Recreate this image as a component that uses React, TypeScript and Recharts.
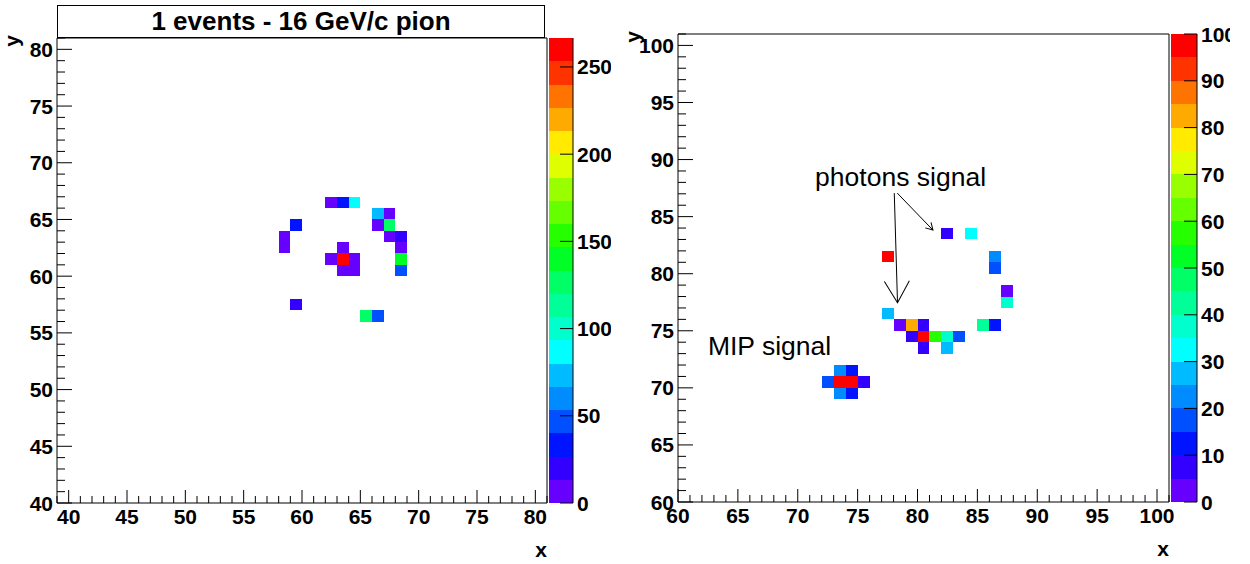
import React from 'react';
import { ComposedChart, Scatter, XAxis, YAxis, ReferenceArea, ReferenceLine, ReferenceDot, Label } from 'recharts';

const FONT = '"Liberation Sans", Arial, Helvetica, sans-serif';

// ROOT rainbow palette, 20 contours, bottom to top
const palette = [
  '#6600ff', '#3300ff', '#0014ff', '#0050ff', '#008cff', '#00bbff', '#00ffff', '#00ffcc', '#00ff99', '#00ff66',
  '#00ff26', '#26ff00', '#66ff00', '#99ff00', '#dfff00', '#ffea00', '#ffaa00', '#ff7300', '#ff3300', '#ff0000',
];

// left: 1 event, 16 GeV/c pion (bin low edges + content)
const pionX = [62, 63, 64, 66, 67, 59, 66, 67, 58, 67, 68, 58, 63, 68, 62, 63, 64, 68, 63, 64, 68, 59, 65, 66];
const pionY = [66, 66, 66, 65, 65, 64, 64, 64, 63, 63, 63, 62, 62, 62, 61, 61, 61, 61, 60, 60, 60, 57, 56, 56];
const pionZ = [6, 33, 87, 73, 6, 33, 6, 127, 6, 6, 20, 6, 6, 6, 6, 266.6, 6, 140, 6, 6, 47, 20, 127, 47];

// right: ring + MIP
const ringX = [82, 84, 77, 86, 86, 87, 87, 77, 78, 79, 80, 85, 86, 79, 80, 81, 82, 83, 80, 82, 73, 74, 72, 73, 74, 75, 73, 74];
const ringY = [83, 83, 81, 81, 80, 78, 77, 76, 75, 75, 75, 75, 75, 74, 74, 74, 74, 74, 73, 73, 71, 71, 70, 70, 70, 70, 69, 69];
const ringZ = [8, 33, 100, 23, 18, 3, 38, 28, 3, 83, 8, 43, 13, 8, 97, 57, 38, 18, 8, 28, 23, 13, 18, 99, 97, 8, 23, 13];

const leftMajor = [40, 45, 50, 55, 60, 65, 70, 75, 80];
const leftXTicks = Array.from({ length: 43 }, (_, i) => 39 + i);
const leftYTicks = Array.from({ length: 42 }, (_, i) => 40 + i);
const rightMajor = [60, 65, 70, 75, 80, 85, 90, 95, 100];
const rightTicks = Array.from({ length: 42 }, (_, i) => 60 + i);
const leftBarTicks = [0, 50, 100, 150, 200, 250];
const rightBarTicks = [0, 10, 20, 30, 40, 50, 60, 70, 80, 90, 100];

// annotations on the right panel
const noteText = ['photons signal', 'MIP signal'];
const noteX = [71.45, 62.5];
const noteY = [87.68, 72.87];
const arrowFrom = [{ x: 78.06, y: 87.06 }, { x: 78.31, y: 87.06 }];
const arrowTo = [{ x: 78.33, y: 77.45 }, { x: 81.29, y: 83.82 }];

const labelFont = { fill: '#000', fontSize: 21, fontWeight: 'bold', fontFamily: FONT } as const;

const colorOf = (z: number, zMax: number) => palette[Math.min(palette.length - 1, Math.floor((z / zMax) * palette.length))];

// ROOT-like ticks: drawn inward from the axis, long on majors, short on minors
const bottomTick = (majors: number[]) => (p: any) => {
  const major = majors.includes(p.payload.value);
  return (
    <g>
      <line x1={p.x} y1={p.y} x2={p.x} y2={p.y - (major ? 13 : 7)} stroke="#000" />
      {major && <text x={p.x} y={p.y + 21} textAnchor="middle" {...labelFont}>{p.payload.value}</text>}
    </g>
  );
};

const leftTick = (majors: number[]) => (p: any) => {
  const major = majors.includes(p.payload.value);
  return (
    <g>
      <line x1={p.x} y1={p.y} x2={p.x + (major ? 15 : 8)} y2={p.y} stroke="#000" />
      {major && <text x={p.x - 4} y={p.y + 7.5} textAnchor="end" {...labelFont}>{p.payload.value}</text>}
    </g>
  );
};

const rightTick = (p: any) => (
  <g>
    <line x1={p.x} y1={p.y} x2={p.x - 13} y2={p.y} stroke="#000" />
    <text x={p.x + 4} y={p.y + 7.5} textAnchor="start" {...labelFont}>{p.payload.value}</text>
  </g>
);

const XTitle = (p: any) => (
  <text x={p.viewBox.x + p.viewBox.width} y={p.viewBox.y + 54} textAnchor="end" {...labelFont}>x</text>
);

const YTitle = (p: any) => {
  const x = p.viewBox.x + p.viewBox.width - 38;
  const y = p.viewBox.y - 3;
  return (
    <text x={x} y={y} transform={`rotate(-90 ${x} ${y})`} textAnchor="end" {...labelFont}>y</text>
  );
};

function HistPanel(props: any) {
  const { xs, ys, zs, xDomain, yDomain, xTicks, yTicks, majors, width, height, top, axisH, axisW, right, children } = props;
  const zMax = Math.max(...zs);
  const cells = xs.map((x: number, i: number) => ({ x: x + 0.5, y: ys[i] + 0.5, x0: x, y0: ys[i], z: zs[i] }));
  return (
    <ComposedChart width={width} height={height} margin={{ top, right, bottom: 0, left: 0 }} data={cells}>
      <defs>
        <marker id="headBig" markerWidth={30} markerHeight={30} refX={25} refY={15} orient="auto" markerUnits="userSpaceOnUse">
          <path d="M3.35,2.5 L25,15 L3.35,27.5" fill="none" stroke="#000" strokeWidth={1} />
        </marker>
        <marker id="headSmall" markerWidth={12} markerHeight={12} refX={9} refY={5} orient="auto" markerUnits="userSpaceOnUse">
          <path d="M2.07,1 L9,5 L2.07,9" fill="none" stroke="#000" strokeWidth={1} />
        </marker>
      </defs>
      <XAxis type="number" dataKey="x" domain={xDomain} allowDataOverflow ticks={xTicks} interval={0}
        height={axisH} tickSize={0} tickMargin={0} tickLine={false} axisLine={false} tick={bottomTick(majors)}>
        <Label content={XTitle} />
      </XAxis>
      <YAxis type="number" dataKey="y" domain={yDomain} allowDataOverflow ticks={yTicks} interval={0}
        width={axisW} tickSize={0} tickMargin={0} tickLine={false} axisLine={false} tick={leftTick(majors)}>
        <Label content={YTitle} />
      </YAxis>
      {cells.map((c: any, i: number) => (
        <ReferenceArea key={i} x1={c.x0} x2={c.x0 + 1} y1={c.y0} y2={c.y0 + 1}
          fill={colorOf(c.z, zMax)} fillOpacity={1} stroke="none" shapeRendering="crispEdges" />
      ))}
      <Scatter dataKey="y" isAnimationActive={false} shape={() => <g />} />
      <ReferenceArea x1={xDomain[0]} x2={xDomain[1]} y1={yDomain[0]} y2={yDomain[1]}
        fill="none" fillOpacity={0} stroke="#000" strokeWidth={1} ifOverflow="visible" />
      {children}
    </ComposedChart>
  );
}

function ColorBar(props: any) {
  const { zMax, ticks, width, height, top, bottom, left, axisW } = props;
  const step = zMax / palette.length;
  return (
    <ComposedChart width={width} height={height} margin={{ top, right: 0, bottom, left }} data={[{ x: 0.5, y: 0 }]}>
      <XAxis type="number" dataKey="x" domain={[0, 1]} allowDataOverflow hide height={0} />
      <YAxis type="number" dataKey="y" orientation="right" domain={[0, zMax]} allowDataOverflow ticks={ticks} interval={0}
        width={axisW} tickSize={0} tickMargin={0} tickLine={false} stroke="#000" tick={rightTick} />
      {palette.map((c, i) => (
        <ReferenceArea key={i} x1={0} x2={1} y1={i * step} y2={(i + 1) * step} fill={c} fillOpacity={1} stroke="none" shapeRendering="crispEdges" />
      ))}
    </ComposedChart>
  );
}

const noteLabel = (text: string) => (p: any) => (
  <text x={p.viewBox.x} y={p.viewBox.y} fontFamily={FONT} fontSize={26.5} fill="#000">{text}</text>
);

export default function App() {
  return (
    <div style={{ position: 'absolute', left: 0, top: 0, width: 1250, height: 564, background: '#fff', overflow: 'hidden' }}>
      <div style={{ position: 'absolute', left: 0, top: 0 }}>
        <HistPanel xs={pionX} ys={pionY} zs={pionZ} xDomain={[39, 81]} yDomain={[40, 81]}
          xTicks={leftXTicks} yTicks={leftYTicks} majors={leftMajor}
          width={560} height={564} top={38} axisH={61} axisW={57} right={13} />
      </div>
      <div style={{ position: 'absolute', left: 540, top: 0 }}>
        <ColorBar zMax={Math.max(...pionZ)} ticks={leftBarTicks} width={71} height={564}
          top={38} bottom={61} left={9} axisW={38} />
      </div>
      <div style={{
        position: 'absolute', left: 57, top: 5, width: 488, height: 33, boxSizing: 'border-box', border: '1px solid #000',
        background: '#fff', textAlign: 'center', fontFamily: FONT, fontWeight: 'bold', fontSize: 26, lineHeight: '31px', color: '#000',
      }}>
        1 events - 16 GeV/c pion
      </div>
      <div style={{ position: 'absolute', left: 620, top: 0 }}>
        <HistPanel xs={ringX} ys={ringY} zs={ringZ} xDomain={[60, 101]} yDomain={[60, 101]}
          xTicks={rightTicks} yTicks={rightTicks} majors={rightMajor}
          width={560} height={564} top={34} axisH={62} axisW={58} right={11}>
          {noteText.map((t, i) => (
            <ReferenceDot key={t} x={noteX[i]} y={noteY[i]} r={0} fill="none" stroke="none" label={noteLabel(t)} />
          ))}
          {arrowFrom.map((a, i) => (
            <ReferenceLine key={i} segment={[a, arrowTo[i]]}
              shape={(p: any) => (
                <line x1={p.x1} y1={p.y1} x2={p.x2} y2={p.y2} stroke="#000" strokeWidth={1}
                  markerEnd={i === 0 ? 'url(#headBig)' : 'url(#headSmall)'} />
              )} />
          ))}
        </HistPanel>
      </div>
      <div style={{ position: 'absolute', left: 1160, top: 0 }}>
        <ColorBar zMax={Math.max(...ringZ)} ticks={rightBarTicks} width={70} height={564}
          top={34} bottom={62} left={11} axisW={33} />
      </div>
    </div>
  );
}
